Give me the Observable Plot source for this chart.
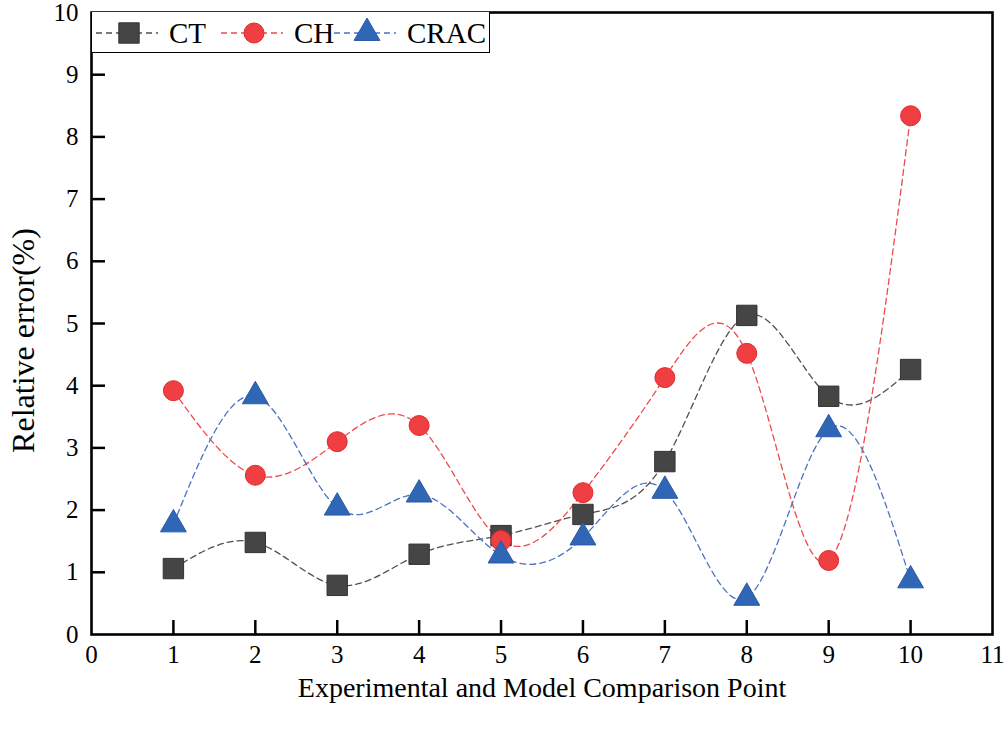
<!DOCTYPE html>
<html>
<head>
<meta charset="utf-8">
<script src="https://cdn.jsdelivr.net/npm/d3@7"></script>
<script src="https://cdn.jsdelivr.net/npm/@observablehq/plot@0.6"></script>
<style>
  html, body { margin: 0; padding: 0; background: #fff; }
  #wrap { position: relative; width: 1005px; height: 732px; background: #fff; }
  #legend { position: absolute; left: 91px; top: 12px; width: 399px; height: 41px; border: 1.5px solid #000; border-top: none; background: #fff; box-sizing: border-box; }
</style>
</head>
<body>
<div id="wrap"></div>
<script>
const points = [1, 2, 3, 4, 5, 6, 7, 8, 9, 10];
const ct   = [1.06, 1.48, 0.79, 1.29, 1.59, 1.93, 2.78, 5.13, 3.83, 4.26];
const ch   = [3.92, 2.56, 3.10, 3.36, 1.51, 2.28, 4.13, 4.52, 1.19, 8.34];
const crac = [1.77, 3.83, 2.04, 2.25, 1.27, 1.56, 2.31, 0.59, 3.30, 0.87];
const xTicks = [0, 1, 2, 3, 4, 5, 6, 7, 8, 9, 10, 11];
const yTicks = [0, 1, 2, 3, 4, 5, 6, 7, 8, 9, 10];

const series = [
  {name: "CT", values: ct, color: "#505050", fill: "#454545", stroke: "#333", symbol: "square", r: 11.5},
  {name: "CH", values: ch, color: "#f0494a", fill: "#ef3f42", stroke: "#e02a2e", symbol: "circle", r: 10},
  {name: "CRAC", values: crac, color: "#4a72c2", fill: "#2f66b6", stroke: "#2a5aa6", symbol: "triangle", r: 9.6}
];

const W = 1005, H = 732, mL = 91, mR = 13, mT = 12, mB = 98;
const font = "'Liberation Serif', 'Times New Roman', serif";

const marks = [];
for (const s of series) {
  const data = points.map((p, i) => ({x: p, y: s.values[i]}));
  marks.push(Plot.line(data, {x: "x", y: "y", curve: "natural", stroke: s.color, strokeWidth: 1.3, strokeDasharray: "6,4"}));
}
for (const s of series) {
  const data = points.map((p, i) => ({x: p, y: s.values[i]}));
  marks.push(Plot.dot(data, {x: "x", y: "y", symbol: s.symbol, r: s.r, fill: s.fill, stroke: s.stroke, strokeWidth: 1}));
}

const chart = Plot.plot({
  width: W, height: H,
  marginLeft: mL, marginRight: mR, marginTop: mT, marginBottom: mB,
  x: {domain: [0, 11]},
  y: {domain: [0, 10]},
  marks: [
    ...marks,
    Plot.frame({stroke: "#000", strokeWidth: 2.6}),
    // inward ticks
    Plot.ruleX(xTicks.slice(1, -1), {x: d => d, y1: 0, y2: 0.225, stroke: "#000", strokeWidth: 2.5}),
    Plot.ruleY(yTicks.slice(1, -1), {y: d => d, x1: 0, x2: 0.171, stroke: "#000", strokeWidth: 2.5}),
    // tick labels
    Plot.axisX(xTicks, {anchor: "bottom", tickSize: 0, tickPadding: 11, fontSize: 25, fontFamily: font, label: null, fill: "#000", tickFormat: d3.format("d")}),
    Plot.axisY(yTicks, {anchor: "left", tickSize: 0, tickPadding: 13, fontSize: 25, fontFamily: font, label: null, fill: "#000", tickFormat: d3.format("d")}),
    Plot.text(["Experimental and Model Comparison Point"], {frameAnchor: "bottom", dy: 54, fontSize: 28, fontFamily: font, fill: "#000", lineAnchor: "middle", textAnchor: "middle"}),
    Plot.text(["Relative error(%)"], {frameAnchor: "left", dx: -68, dy: 17, rotate: -90, fontSize: 32, fontFamily: font, fill: "#000", lineAnchor: "middle", textAnchor: "middle"})
  ]
});

const wrap = document.getElementById("wrap");
wrap.appendChild(chart);

// Legend
const leg = d3.select(wrap).append("div").attr("id", "legend");
const lsvg = leg.append("svg").attr("width", 399).attr("height", 40).style("display", "block");
const items = [
  {s: series[0], x0: 4, tx: 77},
  {s: series[1], x0: 129, tx: 202},
  {s: series[2], x0: 242, tx: 315}
];
const cy = 21;
for (const it of items) {
  const g = lsvg.append("g");
  g.append("line").attr("x1", it.x0).attr("x2", it.x0 + 62).attr("y1", cy).attr("y2", cy)
    .attr("stroke", it.s.color).attr("stroke-width", 1.3).attr("stroke-dasharray", "6,4");
  const area = Math.PI * it.s.r * it.s.r;
  const sym = it.s.symbol === "square" ? d3.symbolSquare : it.s.symbol === "circle" ? d3.symbolCircle : d3.symbolTriangle;
  g.append("path").attr("d", d3.symbol(sym, area)()).attr("transform", `translate(${it.x0 + 33},${cy})`)
    .attr("fill", it.s.fill).attr("stroke", it.s.stroke);
  g.append("text").attr("x", it.tx).attr("y", cy).attr("dy", "0.35em").attr("font-size", 29)
    .attr("font-family", font).attr("fill", "#000").text(it.s.name);
}
</script>
</body>
</html>
